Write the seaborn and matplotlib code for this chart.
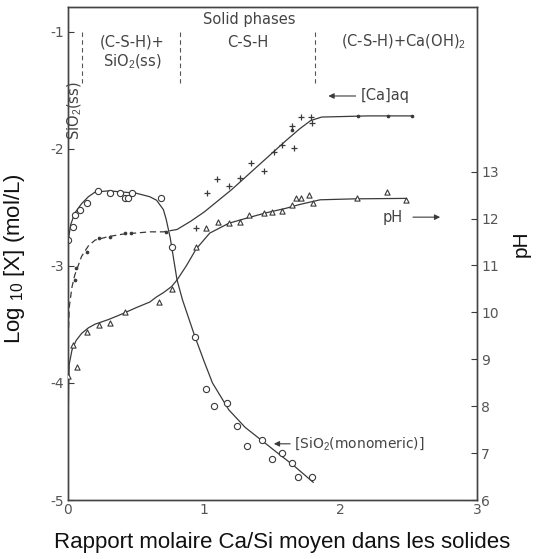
import numpy as np
import pandas as pd
import matplotlib
matplotlib.use('Agg')
import matplotlib.pyplot as plt
import seaborn as sns

sio2_x = [0.0, 0.04, 0.05, 0.09, 0.14, 0.22, 0.31, 0.38, 0.42, 0.44, 0.47, 0.68, 0.76,
          0.93, 1.01, 1.07, 1.17, 1.24, 1.31, 1.42, 1.50, 1.57, 1.64, 1.69, 1.79]
sio2_y = [-2.78, -2.67, -2.57, -2.52, -2.46, -2.36, -2.38, -2.38, -2.42, -2.42, -2.38, -2.42, -2.84,
          -3.61, -4.05, -4.20, -4.17, -4.37, -4.54, -4.49, -4.65, -4.60, -4.68, -4.80, -4.80]

# fitted curves drawn through the points
sio2_curve_x = [0.0, 0.02, 0.05, 0.1, 0.15, 0.2, 0.3, 0.4, 0.5, 0.6, 0.65, 0.7, 0.72, 0.75,
                0.8, 0.84, 0.93, 1.0, 1.06, 1.18, 1.3, 1.42, 1.55, 1.65, 1.8]
sio2_curve_y = [-2.8, -2.65, -2.55, -2.47, -2.41, -2.37, -2.36, -2.37, -2.38, -2.41, -2.44, -2.52, -2.6, -2.76,
                -3.12, -3.29, -3.6, -3.82, -4.0, -4.23, -4.38, -4.49, -4.61, -4.7, -4.85]

ca_dot_x = [0.05, 0.06, 0.14, 0.23, 0.31, 0.42, 0.46, 0.72, 1.64, 2.13, 2.35, 2.52]
ca_dot_y = [-3.12, -3.02, -2.88, -2.76, -2.75, -2.72, -2.72, -2.71, -1.84, -1.72, -1.72, -1.72]
ca_plus_x = [0.94, 1.02, 1.09, 1.18, 1.26, 1.34, 1.44, 1.51, 1.57, 1.64, 1.66, 1.71, 1.78, 1.79]
ca_plus_y = [-2.68, -2.38, -2.26, -2.32, -2.25, -2.12, -2.19, -2.03, -1.97, -1.81, -1.99, -1.73, -1.73, -1.78]
ca_curve_x = [0.0, 0.01, 0.03, 0.05, 0.1, 0.15, 0.2, 0.3, 0.4, 0.5, 0.6, 0.7, 0.75, 0.8, 0.9,
              1.0, 1.2, 1.4, 1.6, 1.7, 1.78, 1.86, 2.2, 2.52]
ca_curve_y = [-3.7, -3.35, -3.18, -3.08, -2.92, -2.83, -2.78, -2.75, -2.73, -2.72, -2.71, -2.71, -2.70, -2.69, -2.62,
              -2.54, -2.35, -2.14, -1.93, -1.83, -1.76, -1.73, -1.72, -1.72]

ph_x = [0.0, 0.07, 0.04, 0.14, 0.23, 0.31, 0.42, 0.67, 0.76, 0.94, 1.01, 1.10, 1.18, 1.26, 1.33,
        1.44, 1.50, 1.57, 1.64, 1.67, 1.71, 1.77, 1.80, 2.12, 2.34, 2.48]
ph_y = [8.64, 8.84, 9.30, 9.58, 9.73, 9.77, 10.0, 10.22, 10.5, 11.39, 11.8, 11.93, 11.9, 11.93, 12.08,
        12.12, 12.14, 12.16, 12.29, 12.44, 12.44, 12.5, 12.33, 12.44, 12.57, 12.4]
ph_curve_x = [0.0, 0.005, 0.01, 0.03, 0.06, 0.1, 0.15, 0.2, 0.3, 0.4, 0.5, 0.6, 0.65, 0.7, 0.76, 0.8,
              0.87, 0.94, 1.04, 1.18, 1.3, 1.45, 1.6, 1.7, 1.85, 2.1, 2.48]
ph_curve_y = [7.05, 8.45, 8.9, 9.2, 9.4, 9.55, 9.67, 9.75, 9.85, 9.97, 10.1, 10.22, 10.33, 10.42, 10.55, 10.69,
              11.0, 11.35, 11.69, 11.9, 12.0, 12.12, 12.22, 12.3, 12.4, 12.42, 12.43]

log_ticks = [-1, -2, -3, -4, -5]
ph_ticks = [6, 7, 8, 9, 10, 11, 12, 13]
x_ticks = [0, 1, 2, 3]

sns.set_theme(style='white')
plt.rcParams['font.family'] = ['DejaVu Sans']
plt.rcParams['axes.unicode_minus'] = False
plt.rcParams['mathtext.fontset'] = 'custom'
plt.rcParams['mathtext.rm'] = 'Liberation Sans'

ink = '#3a3a3a'
fig = plt.figure(figsize=(5.39, 5.59), dpi=100)
ax = fig.add_axes([0.126, 0.1055, 0.759, 0.882])
ax2 = ax.twinx()

# log concentration curves
sns.lineplot(x=sio2_curve_x, y=sio2_curve_y, ax=ax, color=ink, lw=0.9, sort=False, estimator=None)
sns.scatterplot(x=sio2_x, y=sio2_y, ax=ax, marker='o', s=20, facecolor='white', edgecolor=ink, linewidth=0.8, zorder=3)
sns.lineplot(x=ca_curve_x[:13], y=ca_curve_y[:13], ax=ax, color=ink, lw=0.9, sort=False, estimator=None, linestyle=(0, (5, 3)))
sns.lineplot(x=ca_curve_x[12:], y=ca_curve_y[12:], ax=ax, color=ink, lw=0.9, sort=False, estimator=None)
sns.scatterplot(x=ca_dot_x, y=ca_dot_y, ax=ax, marker='o', s=7, color=ink, linewidth=0, zorder=3)
sns.scatterplot(x=ca_plus_x, y=ca_plus_y, ax=ax, marker='+', s=18, color=ink, linewidth=0.9, zorder=3)

# pH on the right axis
sns.lineplot(x=ph_curve_x, y=ph_curve_y, ax=ax2, color=ink, lw=0.9, sort=False, estimator=None)
sns.scatterplot(x=ph_x, y=ph_y, ax=ax2, marker='^', s=14, facecolor='white', edgecolor=ink, linewidth=0.8, zorder=3)

ax.set_xlim(0, 3)
ax.set_ylim(-5, -0.79)
ax2.set_ylim(6, 16.51)
ax.set_xticks(x_ticks)
ax.set_yticks(log_ticks)
ax2.set_yticks(ph_ticks)
ax.set_xticklabels([str(t) for t in x_ticks])
ax.set_yticklabels([str(t) for t in log_ticks])
ax2.set_yticklabels([str(t) for t in ph_ticks])
for a in (ax, ax2):
    a.tick_params(direction='in', length=4, width=0.8, color=ink, labelsize=10, labelcolor='#555555', pad=3)
    for s in a.spines.values():
        s.set_color('#444444')
        s.set_linewidth(1.0)
ax.tick_params(axis='x', pad=2)

lab = dict(family=['Liberation Sans', 'DejaVu Sans'], fontsize=16, color='#111111')
ax.set_xlabel('Rapport molaire Ca/Si moyen dans les solides', **lab)
ax.xaxis.set_label_coords(0.523, -0.064)
ax.set_ylabel('Log $_{10}$ [X] (mol/L)', **lab)
ax.yaxis.set_label_coords(-0.1, 0.49)
ax2.set_ylabel('pH', family=['Liberation Sans', 'DejaVu Sans'], fontsize=15, color='#111111')
ax2.yaxis.set_label_coords(1.085, 0.52)

# solid phase regions at the top
tk = dict(fontsize=10.5, color='#444444', ha='center', va='center')
ax.text(1.33, -0.9, 'Solid phases', **tk)
ax.text(0.47, -1.09, '(C-S-H)+', **tk)
ax.text(0.47, -1.26, 'SiO$_2$(ss)', **tk)
ax.text(1.32, -1.09, 'C-S-H', **tk)
ax.text(2.46, -1.09, '(C-S-H)+Ca(OH)$_2$', **tk)
for xv in [0.1, 0.82, 1.81]:
    ax.plot([xv, xv], [-1.0, -1.44], color='#555555', lw=0.8, ls=(0, (4, 3)))
ax.text(0.05, -1.68, 'SiO$_2$(ss)', rotation=90, **tk)

arr = dict(arrowstyle='-|>', color=ink, lw=0.8, mutation_scale=8)
ax.annotate('', xy=(1.89, -1.55), xytext=(2.13, -1.55), arrowprops=arr)
ax.text(2.15, -1.55, '[Ca]aq', fontsize=10.5, color='#444444', ha='left', va='center')
ax2.text(2.31, 12.03, 'pH', fontsize=10.5, color='#444444', ha='left', va='center')
ax2.annotate('', xy=(2.75, 12.03), xytext=(2.51, 12.03), arrowprops=arr)
ax.annotate('', xy=(1.49, -4.52), xytext=(1.65, -4.52), arrowprops=arr)
ax.text(1.66, -4.52, '[SiO$_2$(monomeric)]', fontsize=10, color='#444444', ha='left', va='center')

fig.savefig('out.png', dpi=100)
